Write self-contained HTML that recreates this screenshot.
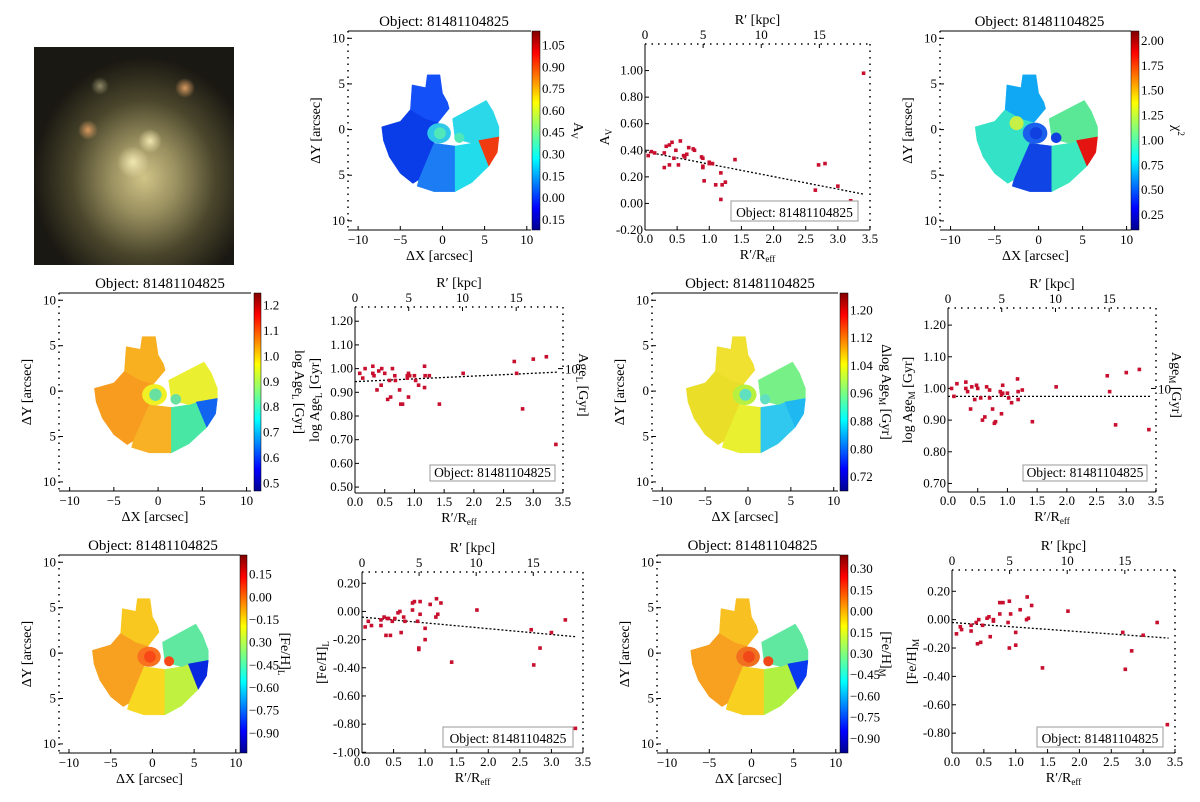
<!DOCTYPE html>
<html><head><meta charset="utf-8"><style>
body{margin:0;background:#fff;}
svg{display:block;font-family:"Liberation Serif",serif;}
</style></head><body>
<svg id="fig" width="1200" height="802" viewBox="0 0 1200 802" xmlns="http://www.w3.org/2000/svg">
<defs>
<linearGradient id="jet" x1="0" y1="1" x2="0" y2="0">
<stop offset="0" stop-color="#00008f"/><stop offset="0.11" stop-color="#0000ff"/><stop offset="0.36" stop-color="#00ffff"/><stop offset="0.5" stop-color="#7fff7f"/><stop offset="0.64" stop-color="#ffff00"/><stop offset="0.89" stop-color="#ff0000"/><stop offset="1" stop-color="#7f0000"/>
</linearGradient>
<radialGradient id="gal" cx="0.55" cy="0.6" r="0.55">
<stop offset="0" stop-color="#d0c487"/><stop offset="0.3" stop-color="#9a9060"/><stop offset="0.65" stop-color="#4a462c"/><stop offset="1" stop-color="#1a1812"/>
</radialGradient>
<radialGradient id="blob" cx="0.5" cy="0.5" r="0.5"><stop offset="0" stop-color="#f0e6b0"/><stop offset="1" stop-color="#f0e6b0" stop-opacity="0"/></radialGradient>
<radialGradient id="blobr" cx="0.5" cy="0.5" r="0.5"><stop offset="0" stop-color="#d89a60"/><stop offset="1" stop-color="#d89a60" stop-opacity="0"/></radialGradient>
</defs>
<g>
<rect x="34" y="47" width="200" height="218" fill="#1e1c16"/>
<rect x="34" y="47" width="200" height="218" fill="url(#gal)"/>
<circle cx="133" cy="162" r="16" fill="url(#blob)"/>
<circle cx="150" cy="141" r="12" fill="url(#blob)"/>
<circle cx="185" cy="88" r="10" fill="url(#blobr)"/>
<circle cx="88" cy="130" r="10" fill="url(#blobr)"/>
<circle cx="100" cy="86" r="9" fill="url(#blob)" opacity="0.5"/>
</g>
</svg>
<script>
// ===== Scatter data =====
const avR   = [0.05,0.1,0.15,0.3,0.3,0.33,0.38,0.38,0.42,0.45,0.48,0.52,0.55,0.6,0.62,0.65,0.68,0.75,0.77,0.88,0.9,0.9,0.9,0.92,1.0,1.0,1.05,1.1,1.18,1.18,1.2,1.25,1.4,1.8,2.65,2.7,2.8,3.0,3.2,3.4];
const avVal = [0.36,0.39,0.38,0.38,0.27,0.43,0.44,0.29,0.46,0.34,0.40,0.29,0.47,0.36,0.35,0.37,0.42,0.41,0.40,0.35,0.34,0.28,0.27,0.17,0.31,0.30,0.30,0.14,0.23,0.03,0.14,0.16,0.33,0.0,0.1,0.29,0.30,0.13,0.02,0.98];
const avFit = [0.39,0.07];
const ageLR   = [0.08,0.13,0.17,0.3,0.3,0.32,0.37,0.4,0.44,0.45,0.5,0.55,0.58,0.6,0.63,0.67,0.68,0.75,0.77,0.8,0.88,0.88,0.9,0.9,0.92,1.0,1.02,1.07,1.17,1.17,1.18,1.25,1.42,1.82,2.68,2.72,2.82,3.0,3.22,3.38];
const ageLVal = [0.98,0.96,1.0,1.01,0.98,0.97,0.91,0.99,0.93,1.0,0.98,0.87,0.95,0.88,1.0,0.97,0.95,0.91,0.85,0.85,0.96,0.97,0.98,0.88,0.97,0.97,0.95,0.93,1.01,0.92,0.97,0.97,0.85,0.98,1.03,0.98,0.83,1.04,1.05,0.68];
const ageLFit = [0.945,0.985];
const ageMR   = [0.06,0.1,0.15,0.3,0.3,0.33,0.38,0.4,0.45,0.48,0.5,0.55,0.58,0.62,0.65,0.7,0.7,0.75,0.78,0.8,0.88,0.9,0.9,0.92,0.92,1.0,1.02,1.07,1.17,1.18,1.18,1.25,1.42,1.82,2.68,2.72,2.82,3.0,3.22,3.38];
const ageMVal = [1.0,0.975,1.015,1.02,1.0,0.99,0.935,1.005,0.965,1.01,1.0,0.97,0.9,0.91,1.005,0.97,0.995,0.935,0.89,0.895,0.99,0.98,0.92,1.01,0.985,0.985,0.97,0.955,1.03,0.99,0.965,0.995,0.895,1.005,1.04,0.99,0.885,1.05,1.06,0.87];
const ageMFit = [0.975,0.975];
const fehLR   = [0.05,0.1,0.15,0.3,0.3,0.35,0.38,0.4,0.42,0.45,0.48,0.52,0.57,0.6,0.62,0.66,0.68,0.8,0.8,0.83,0.88,0.9,0.9,0.92,0.92,1.0,1.0,1.08,1.17,1.18,1.2,1.25,1.42,1.82,2.68,2.72,2.82,3.0,3.22,3.38];
const fehLVal = [-0.11,-0.07,-0.1,-0.06,-0.1,-0.04,-0.17,-0.05,-0.05,-0.17,-0.07,-0.05,-0.01,0.0,-0.15,-0.04,-0.07,0.06,0.01,0.07,-0.07,-0.26,-0.27,0.07,-0.02,-0.2,-0.12,0.05,-0.04,0.09,-0.02,0.06,-0.36,0.01,-0.13,-0.38,-0.26,-0.15,-0.06,-0.83];
const fehLFit = [-0.04,-0.18];
const fehMR   = [0.07,0.13,0.15,0.3,0.3,0.38,0.4,0.42,0.45,0.48,0.55,0.58,0.6,0.65,0.65,0.75,0.75,0.8,0.88,0.9,0.9,0.92,1.0,1.0,1.07,1.17,1.18,1.2,1.25,1.42,1.82,2.68,2.72,2.82,3.0,3.22,3.38];
const fehMVal = [-0.1,-0.05,-0.07,-0.04,-0.08,-0.02,-0.17,0.0,-0.16,-0.04,0.01,0.02,-0.12,0.0,-0.01,0.04,0.12,0.12,-0.02,-0.2,0.13,0.04,-0.18,-0.09,0.07,0.0,0.16,0.01,0.1,-0.34,0.06,-0.09,-0.35,-0.22,-0.11,-0.02,-0.74];
const fehMFit = [-0.02,-0.13];
const xTicks = [0,0.5,1,1.5,2,2.5,3,3.5];
const kpcTicks = [0,5,10,15];
const avTicks = [-0.2,0,0.2,0.4,0.6,0.8,1.0];
const ageLTicks = [0.5,0.6,0.7,0.8,0.9,1.0,1.1,1.2];
const ageMTicks = [0.7,0.8,0.9,1.0,1.1,1.2];
const fehLTicks = [-1.0,-0.8,-0.6,-0.4,-0.2,0,0.2];
const fehMTicks = [-0.8,-0.6,-0.4,-0.2,0,0.2];

const NS="http://www.w3.org/2000/svg";
const svg=document.getElementById('fig');
function mk(tag,attrs,parent,text){const e=document.createElementNS(NS,tag);for(const k in attrs)e.setAttribute(k,attrs[k]);if(text!==undefined)e.textContent=text;(parent||svg).appendChild(e);return e;}

const KPC=5.53;
function scatter(name,f,ymin,ymax,yt,dec,R,V,fit,ylab,rlab,box){
  const g=mk('g',{});
  
  
  const sx=v=>f[0]+(v-0)/3.5*(f[1]-f[0]);
  const sy=v=>f[3]-(v-ymin)/(ymax-ymin)*(f[3]-f[2]);
  mk('line',{x1:f[0],y1:f[3],x2:f[1],y2:f[3],stroke:'#000','stroke-width':1},g);
  mk('line',{x1:f[0],y1:f[2],x2:f[0],y2:f[3],stroke:'#000','stroke-width':1},g);
  mk('line',{x1:f[0],y1:f[2],x2:f[1],y2:f[2],stroke:'#000','stroke-width':1.5,'stroke-dasharray':'1.5,5'},g);
  mk('line',{x1:f[1],y1:f[2],x2:f[1],y2:f[3],stroke:'#000','stroke-width':1.5,'stroke-dasharray':'1.5,5'},g);
  xTicks.forEach(t=>{const x=sx(t);mk('line',{x1:x,y1:f[3],x2:x,y2:f[3]-4,stroke:'#000'},g);
    const l=mk('text',{x:x,y:f[3]+13,'font-size':13,'text-anchor':'middle'},g,t.toFixed(1));
    
    });
  kpcTicks.forEach(t=>{const x=sx(t/KPC);mk('line',{x1:x,y1:f[2],x2:x,y2:f[2]+4,stroke:'#000'},g);
    const l=mk('text',{x:x,y:f[2]-5,'font-size':13,'text-anchor':'middle'},g,String(t));
    
    });
  yt.forEach(t=>{const y=sy(t);mk('line',{x1:f[0],y1:y,x2:f[0]+4,y2:y,stroke:'#000'},g);
    const l=mk('text',{x:f[0]-2,y:y+4,'font-size':13,'text-anchor':'end'},g,t.toFixed(dec));
    
    });
  const t1=mk('text',{x:(f[0]+f[1])/2,y:f[2]-20,'font-size':14,'text-anchor':'middle'},g,"R\u2032 [kpc]");
  
  
  const t2=mk('text',{x:(f[0]+f[1])/2,y:f[3]+29,'font-size':14,'text-anchor':'middle'},g);
  
  
  t2.innerHTML='R\u2032/R<tspan font-size="9" dy="3">eff</tspan>';
  const yl=mk('text',{x:0,y:0,'font-size':14,'text-anchor':'middle',transform:`translate(${f[0]-36},${(f[2]+f[3])/2}) rotate(-90)`},g);
  
  
  yl.innerHTML=ylab;
  if(rlab){
    const y10=sy(1.0);
    mk('line',{x1:f[1],y1:y10,x2:f[1]-5,y2:y10,stroke:'#000'},g);
    mk('text',{x:f[1]+2,y:y10+5,'font-size':13},g,'10');
    const rl=mk('text',{x:0,y:0,'font-size':14,'text-anchor':'middle',transform:`translate(${f[1]+16},${(f[2]+f[3])/2-15}) rotate(90)`},g);
    
    
    rl.innerHTML=rlab;
  }
  const fl=mk('line',{x1:sx(0),y1:sy(fit[0]),x2:sx(3.4),y2:sy(fit[1]),stroke:'#000','stroke-width':1.3,'stroke-dasharray':'2,2'},g);
  
  
  R.forEach((r,i)=>{const p=mk('rect',{x:sx(r)-1.8,y:sy(V[i])-1.8,width:3.6,height:3.6,fill:'#c8102e'},g);
    
    });
  const b=mk('rect',{x:box[0],y:box[1],width:box[2]-box[0],height:box[3]-box[1],fill:'#fff',stroke:'#999'},g);
  
  
  const bt=mk('text',{x:(box[0]+box[2])/2,y:box[3]-4,'font-size':13.5,'text-anchor':'middle'},g,'Object: 81481104825');
  
  
}
scatter('av-profile',[645,870,44,230],-0.2,1.2,avTicks,2,avR,avVal,avFit,'A<tspan font-size="9" dy="3">V</tspan>',null,[731,201,858,221]);
scatter('age-l-profile',[355,563,307,493],0.475,1.26,ageLTicks,2,ageLR,ageLVal,ageLFit,'log Age<tspan font-size="9" dy="3">L</tspan><tspan dy="-3"> [Gyr]</tspan>','Age<tspan font-size="9" dy="3">L</tspan><tspan dy="-3"> [Gyr]</tspan>',[430,465,555,481]);
scatter('age-m-profile',[948,1156,308,492],0.673,1.254,ageMTicks,2,ageMR,ageMVal,ageMFit,'log Age<tspan font-size="9" dy="3">M</tspan><tspan dy="-3"> [Gyr]</tspan>','Age<tspan font-size="9" dy="3">M</tspan><tspan dy="-3"> [Gyr]</tspan>',[1023,465,1147,481]);
scatter('feh-l-profile',[362,583,572,753],-1.005,0.28,fehLTicks,2,fehLR,fehLVal,fehLFit,'[Fe/H]<tspan font-size="9" dy="3">L</tspan>',null,[443,727,573,747]);
scatter('feh-m-profile',[952,1175,570,753],-0.94,0.35,fehMTicks,2,fehMR,fehMVal,fehMFit,'[Fe/H]<tspan font-size="9" dy="3">M</tspan>',null,[1037,727,1163,747]);

// ===== Maps =====
const regA1=[[-3.8,2.2],[-3.6,4.9],[-2,4.6],[-1.8,6],[-0.3,6],[0,4],[0.6,3],[0.8,2.3],[-0.5,0.8],[-2,1.2]];
const regA2=[[-7.2,0.3],[-5,0.9],[-3.8,2.2],[-2,1.2],[-0.5,0.8],[-1,-1.5],[-2.8,-5.5],[-3.5,-5.9],[-5,-4.8],[-6.3,-3],[-7,-1.2]];
const regB=[[-1,-1.5],[1.5,-1.8],[1.5,-6.8],[-1,-6.8],[-3,-6.2],[-2.8,-5.5]];
const regC=[[1.5,-1.8],[3.5,-1.5],[4.5,-1.2],[5.5,-4],[3.5,-5.8],[1.5,-6.8]];
const regD=[[4.3,-1.2],[6.7,-0.8],[6.5,-2.5],[5.5,-4]];
const regE=[[1.2,1.2],[5.2,3.2],[6,2],[6.7,0.3],[6.7,-0.8],[4.3,-1.2],[3.5,-1.5],[1.5,-1.0]];
function map(name,f,cb,cbTicks,cbMin,cbMax,cbLab,cols,title){
  const g=mk('g',{});
  
  
  const sx=v=>f[0]+(v+11.2)/21.7*(f[1]-f[0]);
  const sy=v=>f[3]-(v+11)/21.8*(f[3]-f[2]);
  const poly=(pts,c)=>mk('polygon',{points:pts.map(p=>sx(p[0])+','+sy(p[1])).join(' '),fill:c,stroke:c,'stroke-width':0.5},g);
  poly(regA2,cols[1]);poly(regA1,cols[0]);poly(regB,cols[2]);poly(regC,cols[3]);poly(regE,cols[5]);poly(regD,cols[4]);
  const rx=(f[1]-f[0])/21.7;
  mk('ellipse',{cx:sx(-0.4),cy:sy(-0.4),rx:1.4*rx,ry:1.2*rx,fill:cols[6]},g);
  mk('circle',{cx:sx(-0.3),cy:sy(-0.4),r:0.7*rx,fill:cols[7]},g);
  mk('circle',{cx:sx(2),cy:sy(-0.9),r:0.6*rx,fill:cols[7]},g);
  if(cols[8])mk('circle',{cx:sx(-2.5),cy:sy(0.7),r:0.8*rx,fill:cols[8]},g);
  mk('line',{x1:f[0],y1:f[3],x2:f[1],y2:f[3],stroke:'#000'},g);
  mk('line',{x1:f[0],y1:f[2],x2:f[1],y2:f[2],stroke:'#000'},g);
  mk('line',{x1:f[0],y1:f[2],x2:f[0],y2:f[3],stroke:'#000','stroke-width':1.5,'stroke-dasharray':'1.5,5'},g);
  [-10,-5,0,5,10].forEach(t=>{
    const x=sx(t);mk('line',{x1:x,y1:f[3],x2:x,y2:f[3]-4,stroke:'#000'},g);
    const l=mk('text',{x:x,y:f[3]+14,'font-size':13,'text-anchor':'middle'},g,t<0?'\u2212'+(-t):String(t));
    
    
    const y=sy(t);mk('line',{x1:f[0],y1:y,x2:f[0]+4,y2:y,stroke:'#000'},g);
    const m=mk('text',{x:f[0]-3,y:y+4,'font-size':13,'text-anchor':'end'},g,String(Math.abs(t)));
    
    
  });
  const tt=mk('text',{x:(f[0]+cb[1])/2,y:f[2]-5,'font-size':15,'text-anchor':'middle'},g,title);
  
  
  const xl=mk('text',{x:(f[0]+f[1])/2,y:f[3]+30,'font-size':14,'text-anchor':'middle'},g,'\u0394X [arcsec]');
  
  
  const yl=mk('text',{x:0,y:0,'font-size':14,'text-anchor':'middle',transform:`translate(${f[0]-28},${(f[2]+f[3])/2}) rotate(-90)`},g,'\u0394Y [arcsec]');
  
  
  const cbr=mk('rect',{x:cb[0],y:f[2],width:cb[1]-cb[0],height:f[3]-f[2],fill:'url(#jet)',stroke:'#000','stroke-width':0.5},g);
  
  
  cbTicks.forEach(t=>{
    const y=f[3]-(t[0]-cbMin)/(cbMax-cbMin)*(f[3]-f[2]);
    const l=mk('text',{x:cb[1]+2,y:y+4,'font-size':13},g,t[1]);
    
    
  });
  const cl=mk('text',{x:0,y:0,'font-size':14,'text-anchor':'middle',transform:`translate(${cb[1]+34},${(f[2]+f[3])/2}) rotate(90)`},g);
  
  
  cl.innerHTML=cbLab;
}
const T='Object: 81481104825';
map('av-map',[348,531,31,230],[532,540],[[1.05,'1.05'],[0.9,'0.90'],[0.75,'0.75'],[0.6,'0.60'],[0.45,'0.45'],[0.3,'0.30'],[0.15,'0.15'],[0,'0.00'],[-0.15,'0.15']],-0.22,1.15,'A<tspan font-size="9" dy="3">V</tspan>',
  ['#1450f8','#0a3ce8','#1c7cf4','#22dcec','#f03a10','#2ad8ea','#30c8e8','#50e8b8'],T);
map('chi2-map',[940,1131,31,230],[1131,1139],[[2.0,'2.00'],[1.75,'1.75'],[1.5,'1.50'],[1.25,'1.25'],[1.0,'1.00'],[0.75,'0.75'],[0.5,'0.50'],[0.25,'0.25']],0.1,2.1,'\u03C7<tspan font-size="9" dy="-5">2</tspan>',
  ['#10a8f4','#34e2c8','#1044e4','#3ce8c0','#e41410','#5ae896','#1a60ec','#1040e0','#c4f048'],T);
map('age-l-map',[59,251,293,491],[254,261],[[1.2,'1.2'],[1.1,'1.1'],[1.0,'1.0'],[0.9,'0.9'],[0.8,'0.8'],[0.7,'0.7'],[0.6,'0.6'],[0.5,'0.5']],0.47,1.25,'log Age<tspan font-size="9" dy="3">L</tspan><tspan dy="-3"> [Gyr]</tspan>',
  ['#f8b020','#f89c20','#f8b024','#48e8a4','#1064f0','#eaf030','#f0f024','#68e0a0'],T);
map('age-m-map',[652,838,293,491],[840,848],[[1.2,'1.20'],[1.12,'1.12'],[1.04,'1.04'],[0.96,'0.96'],[0.88,'0.88'],[0.8,'0.80'],[0.72,'0.72']],0.68,1.25,'\u0394log Age<tspan font-size="9" dy="3">M</tspan><tspan dy="-3"> [Gyr]</tspan>',
  ['#f0e030','#eade28','#e8f030','#30c8ee','#20b8f0','#78f088','#b8f040','#60e0c0'],T);
map('feh-l-map',[59,240,555,753],[240,247],[[0.15,'0.15'],[0,'0.00'],[-0.15,'\u22120.15'],[-0.3,'0.30'],[-0.45,'\u22120.45'],[-0.6,'\u22120.60'],[-0.75,'\u22120.75'],[-0.9,'\u22120.90']],-1.03,0.28,'[Fe/H]<tspan font-size="9" dy="3">L</tspan>',
  ['#f8c820','#f8a020','#f8d820','#c0f040','#0828e0','#60e8a0','#f87020','#f84818'],T);
map('feh-m-map',[657,840,555,753],[840,848],[[0.3,'0.30'],[0.15,'0.15'],[0,'0.00'],[-0.15,'0.15'],[-0.3,'0.30'],[-0.45,'\u22120.45'],[-0.6,'\u22120.60'],[-0.75,'\u22120.75'],[-0.9,'\u22120.90']],-1.0,0.4,'[Fe/H]<tspan font-size="9" dy="3">M</tspan>',
  ['#f8c020','#f8a020','#f8d020','#b0f040','#0838f0','#60e8a0','#f07020','#f04818'],T);
</script>
</body></html>
